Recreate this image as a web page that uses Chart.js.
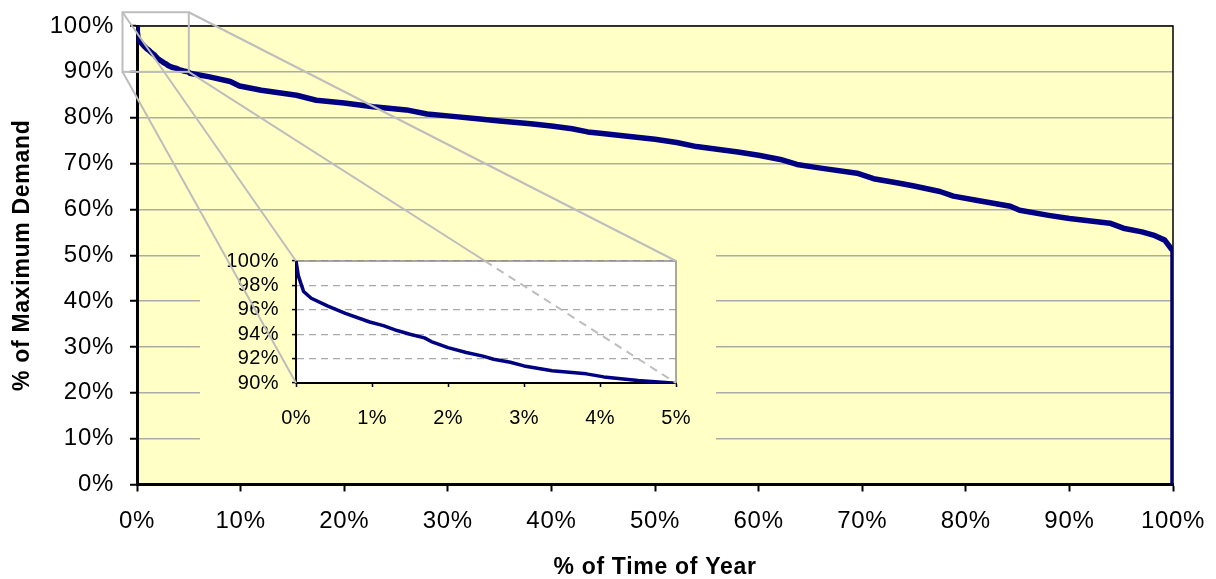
<!DOCTYPE html>
<html>
<head>
<meta charset="utf-8">
<script src="https://cdn.jsdelivr.net/npm/chart.js@4.4.1/dist/chart.umd.min.js"></script>
<style>
  body { margin: 0; background: #fff; }
  #wrap { position: relative; width: 1216px; height: 579px; }
  #wrap canvas { position: absolute; }
</style>
</head>
<body>
<div id="wrap">
  <canvas id="main-chart" width="1216" height="579" style="left:0;top:0"></canvas>
  <canvas id="inset-chart" width="516" height="200" style="left:200px;top:248px"></canvas>
  <canvas id="overlay" width="1216" height="579" style="left:0;top:0;pointer-events:none"></canvas>
</div>
<script>
// load duration curve: % of time of year vs % of maximum demand
const timeShare = [0, 0.03, 0.1, 0.2, 0.42, 0.65, 0.97, 1.15, 1.33, 1.5, 1.69, 1.78, 2.0, 2.24, 2.46, 2.6, 2.82, 3.0, 3.37, 3.82,
    4.05, 4.5, 4.95, 5.1, 7, 9.0, 9.9, 12, 15.4, 17.3, 20, 22.8, 26.0, 28.0, 30, 33.1, 35, 38, 40, 42,
    43.5, 44.7, 48, 50, 52.1, 54.0, 58, 60, 62.1, 63.7, 66, 69.5, 71.1, 73.6, 75, 77.5, 78.8, 81, 84.3, 85.2,
    88, 90, 93.9, 95.2, 97, 98.1, 99.2, 99.8, 100, 100];
const demand = [100, 98.8, 97.5, 96.95, 96.3, 95.7, 95.0, 94.7, 94.3, 94.0, 93.7, 93.4, 92.9, 92.5, 92.2, 91.95, 91.7, 91.4, 91.0, 90.75,
    90.5, 90.2, 90.0, 89.7, 88.9, 87.9, 86.9, 86.0, 84.9, 83.8, 83.2, 82.4, 81.7, 80.8, 80.4, 79.7, 79.3, 78.7, 78.2, 77.6,
    76.9, 76.6, 75.8, 75.3, 74.6, 73.7, 72.5, 71.8, 70.9, 69.8, 69.0, 67.9, 66.7, 65.7, 65.1, 63.9, 62.9, 62.0, 60.7, 59.8,
    58.7, 58.0, 57.0, 55.9, 55.1, 54.4, 53.3, 51.5, 51.0, 0];

// zoomed window shown in the inset
const zoomTime = [0, 5];
const zoomDemand = [90, 100];
// the little "lens" box drawn on the main chart (a bit padded above/left)
const lensTime = [-1.4, 5];
const lensDemand = [90, 103];

const xTitle = '% of Time of Year';
const yTitle = '% of Maximum Demand';

const navy = '#000080';
const plotYellow = '#FFFFC6';
const pct = v => v + '%';

let points = timeShare.map((t, i) => ({ x: t, y: demand[i] }));

let spacing = px => ({
    id: 'spacing',
    beforeUpdate(chart) { chart.ctx.letterSpacing = px; },
    beforeDraw(chart) { chart.ctx.letterSpacing = px; }
});

let mainCtx = document.getElementById('main-chart').getContext('2d');
let insetCtx = document.getElementById('inset-chart').getContext('2d');

let mainChart = new Chart(mainCtx, {
    type: 'line',
    data: {
        datasets: [{
            data: points,
            borderColor: navy,
            borderWidth: 5.5,
            pointRadius: 0,
            borderJoinStyle: 'round',
            tension: 0
        }]
    },
    options: {
        responsive: false,
        animation: false,
        devicePixelRatio: 1,
        layout: { padding: { top: 26, right: 43, left: 0, bottom: 0 } },
        plugins: { legend: { display: false }, tooltip: { enabled: false } },
        scales: {
            x: {
                type: 'linear',
                min: 0,
                max: 100,
                ticks: {
                    stepSize: 10,
                    callback: pct,
                    color: '#000',
                    maxRotation: 0,
                    padding: 15,
                    font: { family: 'Liberation Sans', size: 24 }
                },
                grid: { drawOnChartArea: false, tickLength: 7, tickColor: '#000', tickWidth: 2 },
                border: { color: '#000', width: 3 },
                title: {
                    display: true,
                    text: xTitle,
                    color: '#000',
                    padding: { top: 0, bottom: 0 },
                    font: { family: 'Liberation Sans', size: 23, weight: 'bold', lineHeight: 1 }
                },
                afterFit: s => { s.height = 94.5; s.paddingLeft = 0; s.paddingRight = 0; }
            },
            y: {
                min: 0,
                max: 100,
                ticks: {
                    stepSize: 10,
                    callback: pct,
                    color: '#000',
                    padding: 16,
                    font: { family: 'Liberation Sans', size: 24 }
                },
                grid: { color: '#ABABAB', lineWidth: 1.5, tickLength: 7, tickColor: '#000', tickWidth: 2 },
                border: { color: '#000', width: 3 },
                title: {
                    display: true,
                    text: yTitle,
                    color: '#000',
                    padding: { top: 11, bottom: 0 },
                    font: { family: 'Liberation Sans', size: 23, weight: 'bold', lineHeight: 1 }
                },
                afterFit: s => { s.width = 137; s.paddingTop = 0; s.paddingBottom = 0; }
            }
        }
    },
    plugins: [spacing('0.7px'), {
        id: 'plotFill',
        beforeDraw(chart) {
            const { ctx, chartArea: a } = chart;
            ctx.save();
            ctx.fillStyle = plotYellow;
            ctx.fillRect(a.left, a.top, a.right - a.left, a.bottom - a.top);
            ctx.restore();
        },
        beforeDatasetsDraw(chart) {
            const { ctx, chartArea: a } = chart;
            ctx.save();
            ctx.strokeStyle = '#000';
            ctx.lineWidth = 1.5;
            ctx.beginPath();
            ctx.moveTo(a.left, a.top);
            ctx.lineTo(a.right, a.top);
            ctx.lineTo(a.right, a.bottom);
            ctx.stroke();
            ctx.restore();
        }
    }]
});

let insetChart = new Chart(insetCtx, {
    type: 'line',
    data: {
        datasets: [{
            data: points,
            borderColor: navy,
            borderWidth: 3.5,
            pointRadius: 0,
            borderJoinStyle: 'round',
            tension: 0
        }]
    },
    options: {
        responsive: false,
        animation: false,
        devicePixelRatio: 1,
        layout: { padding: { top: 13, right: 40, left: 0, bottom: 0 } },
        plugins: { legend: { display: false }, tooltip: { enabled: false } },
        scales: {
            x: {
                type: 'linear',
                min: zoomTime[0],
                max: zoomTime[1],
                ticks: {
                    stepSize: 1,
                    callback: pct,
                    color: '#000',
                    maxRotation: 0,
                    autoSkip: false,
                    padding: 19,
                    font: { family: 'Liberation Sans', size: 20 }
                },
                grid: { drawOnChartArea: false, tickLength: 4, tickColor: '#000', tickWidth: 1.5 },
                border: { color: '#000', width: 2 },
                afterFit: s => { s.height = 65; s.paddingLeft = 0; s.paddingRight = 0; }
            },
            y: {
                min: zoomDemand[0],
                max: zoomDemand[1],
                ticks: {
                    stepSize: 2,
                    callback: pct,
                    color: '#000',
                    autoSkip: false,
                    padding: 13,
                    font: { family: 'Liberation Sans', size: 20 }
                },
                grid: { color: '#A8A8A8', lineWidth: 1.2, tickLength: 4, tickColor: '#000', tickWidth: 1.5 },
                border: { color: '#000', width: 2, dash: [7, 5] },
                afterFit: s => { s.width = 96; s.paddingTop = 0; s.paddingBottom = 0; }
            }
        }
    },
    plugins: [spacing('0.4px'), {
        id: 'insetFill',
        beforeDraw(chart) {
            const { ctx, chartArea: a, width, height } = chart;
            ctx.save();
            ctx.fillStyle = plotYellow;
            ctx.fillRect(0, 0, width, height);
            ctx.fillStyle = '#fff';
            ctx.fillRect(a.left, a.top, a.right - a.left, a.bottom - a.top);
            ctx.restore();
        },
        beforeDatasetsDraw(chart) {
            const { ctx, chartArea: a } = chart;
            ctx.save();
            ctx.strokeStyle = '#8C8C8C';
            ctx.lineWidth = 1.5;
            ctx.beginPath();
            ctx.moveTo(a.left, a.top);
            ctx.lineTo(a.right, a.top);
            ctx.lineTo(a.right, a.bottom);
            ctx.stroke();
            ctx.restore();
        }
    }]
});

// lens box + connector lines, drawn over both charts
let drawConnectors = () => {
    const ctx = document.getElementById('overlay').getContext('2d');
    const sx = mainChart.scales.x, sy = mainChart.scales.y;
    const left = sx.getPixelForValue(lensTime[0]), right = sx.getPixelForValue(lensTime[1]);
    const top = sy.getPixelForValue(lensDemand[1]), bottom = sy.getPixelForValue(lensDemand[0]);
    const ia = insetChart.chartArea;
    const offX = 200, offY = 248;
    const iL = ia.left + offX, iR = ia.right + offX, iT = ia.top + offY, iB = ia.bottom + offY;

    ctx.strokeStyle = '#BDBDBD';
    ctx.lineWidth = 2;
    ctx.strokeRect(left, top, right - left, bottom - top);

    let seg = (x1, y1, x2, y2, dash) => {
        ctx.setLineDash(dash || []);
        ctx.beginPath();
        ctx.moveTo(x1, y1);
        ctx.lineTo(x2, y2);
        ctx.stroke();
    };
    seg(left, top, iL, iT);
    seg(right, top, iR, iT);
    seg(left, bottom, iL, iB);
    // the bottom-right ray goes through the inset plot: solid outside, dashed inside
    const t = (iT - bottom) / (iB - bottom);
    const cx = right + (iR - right) * t;
    seg(right, bottom, cx, iT);
    seg(cx, iT, iR, iB, [8, 6]);
};
drawConnectors();
</script>
</body>
</html>
